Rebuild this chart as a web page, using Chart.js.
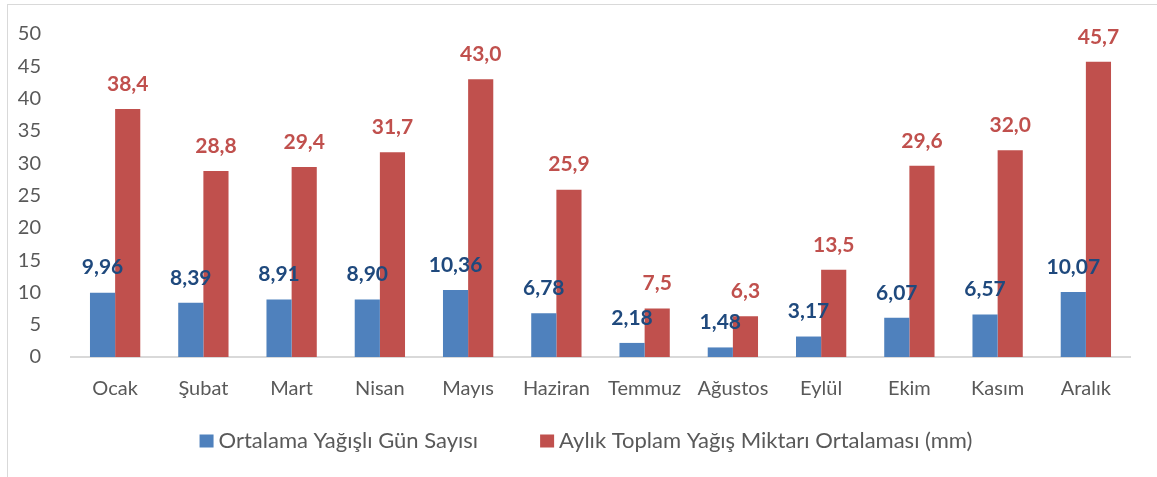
<!DOCTYPE html>
<html lang="tr">
<head>
<meta charset="utf-8">
<script src="https://cdn.jsdelivr.net/npm/chart.js@4/dist/chart.umd.min.js"></script>
<style>
  html, body { margin: 0; padding: 0; background: #fff; }
  #wrap { position: relative; width: 1157px; height: 477px; overflow: hidden; }
  #frame { position: absolute; left: 7px; top: 4px; width: 1200px; height: 500px;
           border-top: 1px solid #d9d9d9; border-left: 1px solid #d9d9d9; }
  canvas { position: absolute; left: 0; top: 0; }
</style>
</head>
<body>
<div id="wrap">
  <div id="frame"></div>
  <canvas id="chart" width="1157" height="477"></canvas>
</div>
<script>
const months = ['Ocak', 'Şubat', 'Mart', 'Nisan', 'Mayıs', 'Haziran', 'Temmuz', 'Ağustos', 'Eylül', 'Ekim', 'Kasım', 'Aralık'];
const rainyDays = [9.96, 8.39, 8.91, 8.90, 10.36, 6.78, 2.18, 1.48, 3.17, 6.07, 6.57, 10.07];
const rainfall = [38.4, 28.8, 29.4, 31.7, 43.0, 25.9, 7.5, 6.3, 13.5, 29.6, 32.0, 45.7];
const yTicks = [0, 5, 10, 15, 20, 25, 30, 35, 40, 45, 50];

const FONT = 'Lato, "Open Sans", sans-serif';

// value labels above each bar, decimal comma
const barLabels = {
  id: 'barLabels',
  afterDatasetsDraw(chart) {
    const ctx = chart.ctx;
    ctx.save();
    ctx.textAlign = 'center';
    ctx.textBaseline = 'middle';
    ctx.font = `bold 21px ${FONT}`;
    chart.data.datasets.forEach((ds, i) => {
      const meta = chart.getDatasetMeta(i);
      ctx.fillStyle = ds.labelColor;
      meta.data.forEach((bar, j) => {
        const txt = ds.data[j].toFixed(ds.decimals).replace('.', ',');
        ctx.fillText(txt, bar.x, bar.y - 25);
      });
    });
    ctx.restore();
  },
};

// legend row under the axis: small square, tight gap, wide spacing between items
const legendRow = {
  id: 'legendRow',
  afterDraw(chart) {
    const ctx = chart.ctx;
    const box = 13, gap = 6, itemGap = 62, cy = 441, cx = 586;
    ctx.save();
    ctx.font = `22px ${FONT}`;
    ctx.textBaseline = 'middle';
    const items = chart.data.datasets.map((ds) => ({
      text: ds.label,
      color: ds.backgroundColor,
      w: box + gap + ctx.measureText(ds.label).width,
    }));
    const total = items.reduce((a, it) => a + it.w, 0) + itemGap * (items.length - 1);
    let x = cx - total / 2;
    for (const it of items) {
      ctx.fillStyle = it.color;
      ctx.fillRect(x, cy - 6.5, box + 1, box);
      ctx.fillStyle = '#595959';
      ctx.fillText(it.text, x + box + gap, cy);
      x += it.w + itemGap;
    }
    ctx.restore();
  },
};

new Chart(document.getElementById('chart'), {
  type: 'bar',
  data: {
    labels: months,
    datasets: [
      {
        label: 'Ortalama Yağışlı Gün Sayısı',
        data: rainyDays,
        backgroundColor: '#4f81bd',
        labelColor: '#1f497d',
        decimals: 2,
      },
      {
        label: 'Aylık Toplam Yağış Miktarı Ortalaması (mm)',
        data: rainfall,
        backgroundColor: '#c0504d',
        labelColor: '#c0504d',
        decimals: 1,
      },
    ],
  },
  options: {
    responsive: false,
    animation: false,
    layout: { padding: { top: 22, right: 27, bottom: 68, left: 0 } },
    datasets: { bar: { categoryPercentage: 0.57, barPercentage: 1.0 } },
    scales: {
      x: {
        grid: { display: false },
        border: { display: true, color: '#d9d9d9', width: 2 },
        ticks: { color: '#595959', font: { family: FONT, size: 20 }, padding: 12, maxRotation: 0 },
        afterFit: (s) => { s.height = 52; },
      },
      y: {
        min: 0,
        max: 50,
        grid: { display: false },
        border: { display: false },
        afterBuildTicks: (s) => { s.ticks = yTicks.map((v) => ({ value: v })); },
        ticks: { color: '#595959', font: { family: FONT, size: 20 }, padding: 22 },
        afterFit: (s) => { s.width = 71; },
      },
    },
    plugins: {
      legend: { display: false },
      tooltip: { enabled: false },
    },
  },
  plugins: [barLabels, legendRow],
});
</script>
</body>
</html>
